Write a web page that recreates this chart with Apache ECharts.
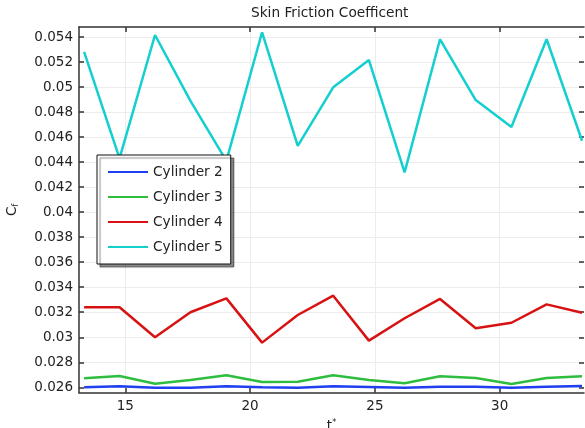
<!DOCTYPE html>
<html>
<head>
<meta charset="utf-8">
<script src="https://cdn.jsdelivr.net/npm/echarts@6/dist/echarts.min.js"></script>
<style>
  html, body { margin: 0; padding: 0; background: #fff; }
  #chart { width: 585px; height: 428px; }
</style>
</head>
<body>
<div id="chart"></div>
<script>
// Sample times (t*) shared by every cylinder
const times = [13.35, 14.77, 16.19, 17.61, 19.05, 20.48, 21.91, 23.33, 24.76, 26.19, 27.61, 29.04, 30.47, 31.88, 33.30];

// Skin friction coefficient per cylinder
const cylinder2 = [0.02600, 0.02608, 0.02597, 0.02597, 0.02608, 0.02600, 0.02597, 0.02608, 0.02603, 0.02597, 0.02605, 0.02605, 0.02597, 0.02605, 0.02611];
const cylinder3 = [0.02672, 0.02690, 0.02629, 0.02658, 0.02696, 0.02642, 0.02645, 0.02696, 0.02658, 0.02632, 0.02688, 0.02674, 0.02627, 0.02674, 0.02688];
const cylinder4 = [0.03240, 0.03240, 0.03000, 0.03200, 0.03311, 0.02957, 0.03178, 0.03332, 0.02973, 0.03152, 0.03306, 0.03072, 0.03116, 0.03263, 0.03196];
const cylinder5 = [0.05282, 0.04430, 0.05416, 0.04889, 0.04410, 0.05438, 0.04529, 0.04998, 0.05216, 0.04318, 0.05382, 0.04896, 0.04681, 0.05382, 0.04571];

const seriesNames = ['Cylinder 2', 'Cylinder 3', 'Cylinder 4', 'Cylinder 5'];
const seriesValues = [cylinder2, cylinder3, cylinder4, cylinder5];
const seriesColors = ['#1f3ff0', '#2fbd40', '#d81212', '#14cfcf'];

// Axis ranges and tick positions
const xRange = [13.145, 33.378];
const xTicks = [15, 20, 25, 30];
const yRange = [0.025568, 0.0548];
const yTicks = [0.026, 0.028, 0.030, 0.032, 0.034, 0.036, 0.038, 0.040, 0.042, 0.044, 0.046, 0.048, 0.050, 0.052, 0.054];

const FONT = 'DejaVu Sans';
const TEXT = '#222';
const AXIS = '#333';
const GRIDLINE = '#ececec';

const yLabel = v => String(parseFloat(Number(v).toFixed(3)));

const chart = echarts.init(document.getElementById('chart'), null, { renderer: 'canvas' });

function frameAxis(extra) {
  return Object.assign({
    type: 'value',
    axisLine: { show: true, onZero: false, lineStyle: { color: AXIS, width: 1.5 } },
    splitLine: { show: false },
    axisLabel: { show: false }
  }, extra);
}

const option = {
  backgroundColor: '#fff',
  animation: false,
  title: {
    text: 'Skin Friction Coefficent',
    left: 251,
    top: 6,
    padding: 0,
    textStyle: { fontFamily: FONT, fontSize: 13.7, fontWeight: 'normal', color: TEXT }
  },
  grid: { left: 79, right: 1, top: 27, bottom: 35.3, containLabel: false, outerBoundsMode: 'none' },
  legend: {
    orient: 'vertical',
    left: 97,
    top: 155,
    padding: [10, 8, 10, 10],
    itemWidth: 40,
    itemHeight: 14,
    itemGap: 11,
    itemTextGap: 7,
    backgroundColor: '#fff',
    borderColor: '#111',
    borderWidth: 1,
    shadowColor: 'rgba(0,0,0,0.45)',
    shadowBlur: 1,
    shadowOffsetX: 3,
    shadowOffsetY: 3,
    itemStyle: { color: 'rgba(0,0,0,0)', borderWidth: 0, opacity: 0 },
    textStyle: { fontFamily: FONT, fontSize: 13.7, color: TEXT },
    data: seriesNames
  },
  xAxis: [
    frameAxis({
      position: 'bottom',
      min: xRange[0], max: xRange[1],
      axisTick: { show: true, inside: true, length: 5, customValues: xTicks, lineStyle: { color: AXIS, width: 1.5 } },
      splitLine: { show: true, lineStyle: { color: GRIDLINE, width: 1 } },
      axisLabel: { show: true, customValues: xTicks, margin: 7, fontFamily: FONT, fontSize: 13.5, color: TEXT },
      name: '{t|t}{s|*}',
      nameLocation: 'middle',
      nameGap: 22,
      nameTextStyle: {
        fontFamily: FONT, color: TEXT,
        rich: {
          t: { fontFamily: FONT, fontSize: 13.5, color: TEXT, lineHeight: 16 },
          s: { fontFamily: FONT, fontSize: 8, color: TEXT, verticalAlign: 'top', lineHeight: 16, padding: [0, 0, 6, 0] }
        }
      }
    }),
    frameAxis({
      position: 'top',
      min: xRange[0], max: xRange[1],
      axisTick: { show: true, inside: true, length: 5, customValues: xTicks, lineStyle: { color: AXIS, width: 1.5 } }
    })
  ],
  yAxis: [
    frameAxis({
      position: 'left',
      min: yRange[0], max: yRange[1],
      axisTick: { show: true, inside: true, length: 5, customValues: yTicks, lineStyle: { color: AXIS, width: 1.5 } },
      splitLine: { show: true, lineStyle: { color: GRIDLINE, width: 1 } },
      axisLabel: { show: true, customValues: yTicks, formatter: yLabel, margin: 6, fontFamily: FONT, fontSize: 13.5, color: TEXT },
      name: '{c|C}{s|f}',
      nameLocation: 'middle',
      nameRotate: 90,
      nameGap: 59,
      nameTextStyle: {
        fontFamily: FONT, color: TEXT,
        rich: {
          c: { fontFamily: FONT, fontSize: 13.5, color: TEXT, lineHeight: 16 },
          s: { fontFamily: FONT, fontSize: 8, color: TEXT, verticalAlign: 'bottom', lineHeight: 16, padding: [6, 0, 0, 0] }
        }
      }
    }),
    frameAxis({
      position: 'right',
      min: yRange[0], max: yRange[1],
      axisLine: { show: false },
      axisTick: { show: true, inside: true, length: 5, customValues: yTicks, lineStyle: { color: AXIS, width: 1.5 } }
    })
  ],
  series: seriesNames.map((name, i) => ({
    name: name,
    type: 'line',
    xAxisIndex: 0,
    yAxisIndex: 0,
    symbol: 'none',
    smooth: false,
    color: seriesColors[i],
    lineStyle: { color: seriesColors[i], width: 2.5 },
    data: times.map((t, j) => [t, seriesValues[i][j]])
  }))
};

chart.setOption(option);
</script>
</body>
</html>
